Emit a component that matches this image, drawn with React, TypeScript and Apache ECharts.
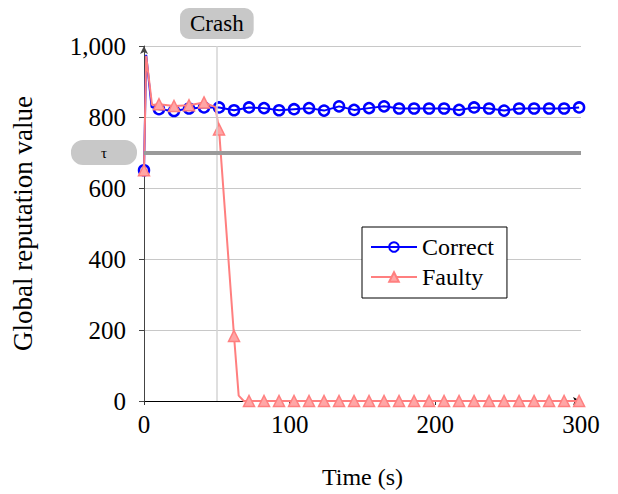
import React, { useEffect, useRef } from "react";
import * as echarts from "echarts";

const times = [0, 10.3, 20.6, 30.9, 41.2, 51.5, 61.8, 72.1, 82.4, 92.7, 103, 113.3, 123.6, 133.9, 144.2, 154.5, 164.8, 175.1, 185.4, 195.7, 206, 216.3, 226.6, 236.9, 247.2, 257.5, 267.8, 278.1, 288.4, 298.7];
const correctValues = [650, 822, 817, 824, 827, 827, 819, 827, 825, 819, 822, 825, 818, 830, 820, 825, 830, 824, 824, 824, 824, 820, 827, 824, 818, 824, 824, 824, 824, 827];
const faultyValues = [650, 836, 831, 833, 841, 765, 183, 0, 0, 0, 0, 0, 0, 0, 0, 0, 0, 0, 0, 0, 0, 0, 0, 0, 0, 0, 0, 0, 0, 0];
// unmarked intermediate samples [time, value]
const correctExtra = [[1.5, 975], [5.2, 828]];
const faultyExtra = [[1.5, 972], [5.5, 834], [49, 828], [65, 15], [68.5, 0]];
const yTicks = [0, 200, 400, 600, 800, 1000];
const thresholdValue = 700;
const crashTime = 50;

const FONT = "'Liberation Serif', 'Times New Roman', Times, serif";

function buildSeries(values: number[], extra: number[][]) {
  const pts: any[] = values.map((v, i) => ({ value: [times[i], v] }));
  extra.forEach(([t, v]) => pts.push({ value: [t, v], symbol: "none" }));
  pts.sort((a, b) => a.value[0] - b.value[0]);
  return pts;
}

export default function App() {
  const ref = useRef<HTMLDivElement>(null);
  useEffect(() => {
    document.body.style.margin = "0";
    const chart = echarts.init(ref.current!, null, { renderer: "svg" });
    chart.setOption({
      animation: false,
      backgroundColor: "#fff",
      textStyle: { fontFamily: FONT, color: "#000" },
      grid: { left: 144, right: 37, top: 46, bottom: 88, containLabel: false },
      legend: {
        data: ["Correct", "Faulty"],
        orient: "vertical",
        left: 362,
        top: 227,
        borderColor: "#000",
        borderWidth: 1,
        borderRadius: 0,
        backgroundColor: "#fff",
        padding: [8, 13, 9, 8],
        itemWidth: 46,
        itemHeight: 12,
        itemGap: 6,
        textStyle: { fontFamily: FONT, fontSize: 24, color: "#000", lineHeight: 24 },
      },
      xAxis: {
        type: "value",
        min: 0,
        max: 300,
        interval: 100,
        name: "Time (s)",
        nameLocation: "middle",
        nameGap: 64,
        nameTextStyle: { fontFamily: FONT, fontSize: 24, color: "#000" },
        axisLine: { show: true, lineStyle: { color: "#000", width: 1 }, symbol: ["none", "arrow"], symbolSize: [6, 8] },
        axisTick: { show: true, length: 4, lineStyle: { color: "#333" } },
        axisLabel: { fontFamily: FONT, fontSize: 25, color: "#000", margin: 11 },
        splitLine: { show: false },
      },
      yAxis: {
        type: "value",
        min: yTicks[0],
        max: yTicks[yTicks.length - 1],
        interval: 200,
        name: "Global reputation value",
        nameLocation: "middle",
        nameGap: 108,
        nameTextStyle: { fontFamily: FONT, fontSize: 27, color: "#000" },
        axisLine: { show: true, lineStyle: { color: "#444", width: 1 }, symbol: ["none", "arrow"], symbolSize: [6, 8] },
        axisTick: { show: true, length: 5, lineStyle: { color: "#444" } },
        axisLabel: {
          fontFamily: FONT,
          fontSize: 25,
          color: "#000",
          margin: 18,
          formatter: (v: number) => v.toLocaleString("en-US"),
        },
        splitLine: { show: true, lineStyle: { color: "#c8c8c8", width: 1 } },
      },
      series: [
        {
          name: "helper",
          type: "line",
          data: [],
          z: 1,
          markLine: {
            silent: true,
            symbol: "none",
            animation: false,
            data: [
              {
                xAxis: crashTime,
                lineStyle: { color: "#d4d4d4", width: 1.5, type: "solid" },
                label: {
                  show: true,
                  position: "end",
                  formatter: "Crash",
                  backgroundColor: "#c8c8c8",
                  borderRadius: 9,
                  padding: [4, 10],
                  fontFamily: FONT,
                  fontSize: 23,
                  color: "#000",
                  distance: 7,
                },
              },
              {
                yAxis: thresholdValue,
                lineStyle: { color: "#9a9a9a", width: 4, type: "solid" },
                label: {
                  show: true,
                  position: "start",
                  formatter: "τ",
                  backgroundColor: "#c8c8c8",
                  borderRadius: 12,
                  padding: [5, 30],
                  fontFamily: FONT,
                  fontSize: 15,
                  color: "#000",
                  distance: 7,
                },
              },
            ],
          },
        },
        {
          name: "Correct",
          type: "line",
          z: 3,
          data: buildSeries(correctValues, correctExtra),
          symbol: "circle",
          symbolSize: 10,
          showSymbol: true,
          lineStyle: { color: "#0000ff", width: 2 },
          itemStyle: { color: "rgba(255,255,255,0)", borderColor: "#0000ff", borderWidth: 2.5 },
        },
        {
          name: "Faulty",
          type: "line",
          z: 4,
          data: buildSeries(faultyValues, faultyExtra),
          symbol: "triangle",
          symbolSize: 11,
          showSymbol: true,
          lineStyle: { color: "#ff7f7f", width: 2 },
          itemStyle: { color: "#ffa6a6", borderColor: "#ff7f7f", borderWidth: 1.5 },
        },
      ],
    });
    return () => chart.dispose();
  }, []);
  return <div ref={ref} style={{ width: 618, height: 494, position: "fixed", left: 0, top: 0 }} />;
}
